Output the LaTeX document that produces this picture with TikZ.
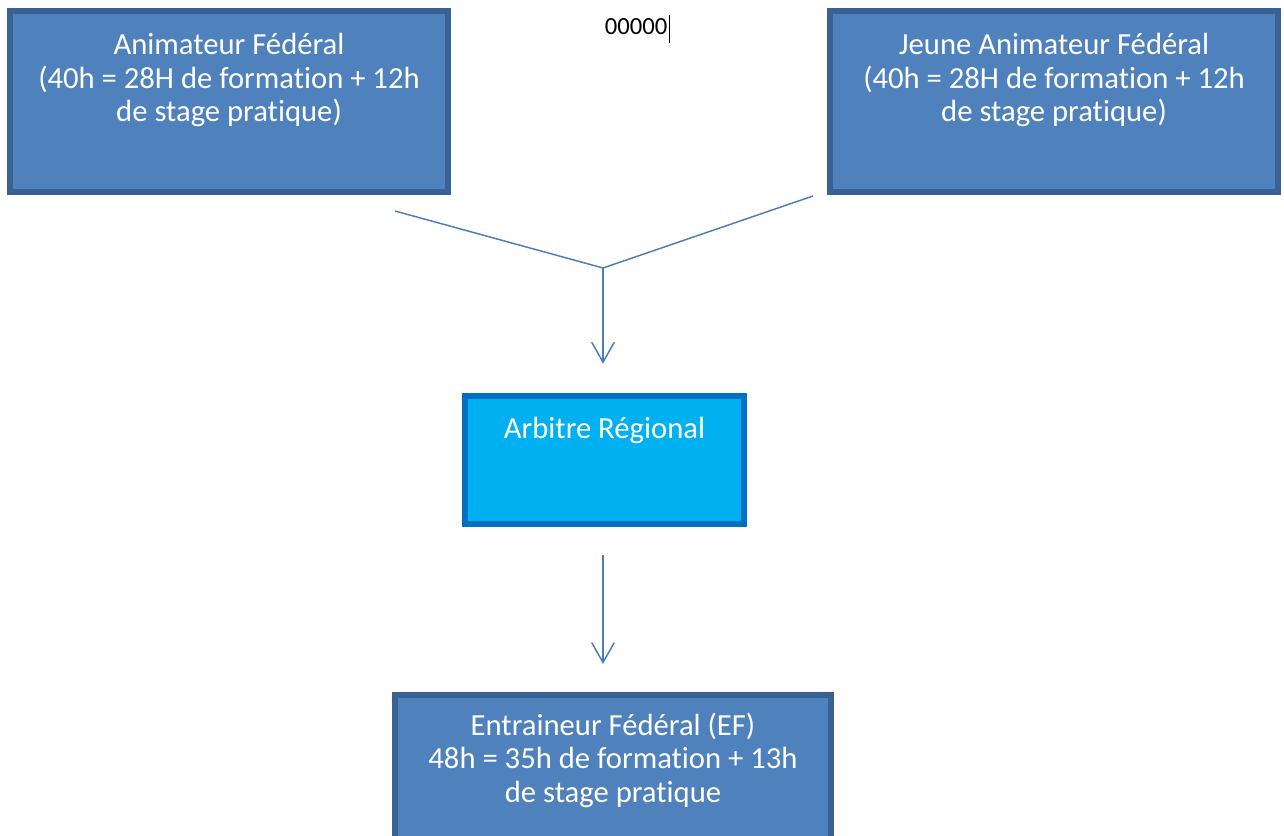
\documentclass[tikz,border=0pt]{standalone}
\usepackage{fontspec}
\setmainfont{Carlito}[Ligatures=NoCommon]
\usepackage{tikz}
\usetikzlibrary{arrows.meta, positioning}

\definecolor{fedfill}{HTML}{4F81BD}
\definecolor{fedline}{HTML}{3A6193}
\definecolor{arbfill}{HTML}{00B0F0}
\definecolor{arbline}{HTML}{0070C0}
\definecolor{linkblue}{HTML}{4A7EBB}

\begin{document}
\begin{tikzpicture}[
  x=0.75pt, y=-0.75pt,   % pixel grid, origin top left
  >={Straight Barb[length=15pt, width=17pt]},
  fed/.style={
    rectangle, draw=fedline, fill=fedfill,
    line width=4.5pt, inner sep=0pt
  },
  arb/.style={
    rectangle, draw=arbline, fill=arbfill,
    line width=5pt, inner sep=0pt
  },
  boxtext/.style={
    text=white, align=center, inner sep=0pt,
    font=\fontsize{23}{25.2}\selectfont
  },
  link/.style={draw=linkblue, line width=1.1pt},
]
\useasboundingbox (0,0) rectangle (1284,835);

% --- Top row ---
\node[fed, minimum width=328.5pt, minimum height=135.75pt] (AF) at (229,101.5) {};
\node[boxtext, below=18.75pt of AF.north] (AFtxt)
  {Animateur Fédéral\\(40h = 28H de formation + 12h\\de stage pratique)};

\node[fed, minimum width=336pt, minimum height=135.75pt] (JAF) at (1054,101.5) {};
\node[boxtext, below=18.75pt of JAF.north] (JAFtxt)
  {Jeune Animateur Fédéral\\(40h = 28H de formation + 12h\\de stage pratique)};

\node[anchor=base, inner sep=0pt, font=\fontsize{18.5}{22}\selectfont] (num) at (636,34) {00000};
\draw[black, line width=0.9pt] ([xshift=1.5pt, yshift=14pt]num.base east) -- ([xshift=1.5pt, yshift=-7pt]num.base east);

% --- Middle ---
\node[arb, minimum width=209.25pt, minimum height=96pt] (ARB) at (604.5,460) {};
\node[boxtext, below=18pt of ARB.north] (ARBtxt) {Arbitre Régional};

% --- Bottom (runs off the page) ---
\node[fed, minimum width=327pt, minimum height=150pt] (EF) at (613,795) {};
\node[boxtext, below=15.5pt of EF.north] (EFtxt)
  {Entraineur Fédéral (EF)\\48h = 35h de formation + 13h\\de stage pratique};

% --- Connectors ---
\coordinate (AFout) at (395,211);
\coordinate (JAFout) at (813,196);
\coordinate (join) at (603,268);

\draw[link] (AFout) -- (join) -- (JAFout);
\draw[link, ->, shorten >=21.75pt] (join) -- (join |- ARB.north);
\draw[link, ->, shorten <=21pt, shorten >=21pt] (join |- ARB.south) -- (join |- EF.north);

\end{tikzpicture}
\end{document}
